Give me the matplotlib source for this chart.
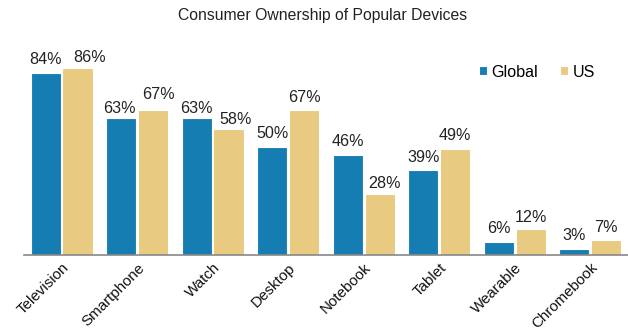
import matplotlib
matplotlib.use("Agg")
import matplotlib.pyplot as plt
import numpy as np

plt.rcParams['font.family'] = ['Liberation Sans', 'DejaVu Sans']

categories = ["Television", "Smartphone", "Watch", "Desktop", "Notebook",
              "Tablet", "Wearable", "Chromebook"]
global_vals = [84, 63, 63, 50, 46, 39, 6, 3]
us_vals = [86, 67, 58, 67, 28, 49, 12, 7]
series_names = ["Global", "US"]
colors = ["#167db3", "#e8cb80"]

# value-label nudges in pixels (dx, gap above bar top) to keep labels apart
global_nudge = [(0, 9), (-2, 5), (0, 5), (0, 9), (0, 9), (0, 8), (0, 9), (0, 9)]
us_nudge = [(12, 6), (5, 11), (7, 5), (0, 8), (5, 6), (0, 9), (0, 7), (0, 8)]

DPI = 100
PX = 72.0 / DPI  # points per pixel

fig = plt.figure(figsize=(6.28, 3.33), dpi=DPI)
ax = fig.add_axes([0.038, 0.234, 0.962, 0.652])

x = np.arange(len(categories))
w = 0.40
offs = [-0.211, 0.211]
for vals, name, c, o, nudge in zip([global_vals, us_vals], series_names,
                                   colors, offs, [global_nudge, us_nudge]):
    bars = ax.bar(x + o, vals, width=w, color=c, edgecolor="white",
                  linewidth=0.8, label=name)
    for b, v, (dx, dy) in zip(bars, vals, nudge):
        ax.annotate(f"{v}%", (b.get_x() + b.get_width() / 2, v),
                    xytext=(dx * PX, dy * PX), textcoords="offset points",
                    ha="center", va="baseline", fontsize=11.6, color="#222222")

ax.set_xlim(-0.5, len(categories) - 0.5)
ax.set_ylim(0, 100)
ax.set_xticks(x)
ax.set_xticklabels(categories, rotation=45, ha="right",
                   rotation_mode="anchor", fontsize=10.9, color="#111111")
ax.tick_params(axis="x", length=0, pad=4)
ax.set_yticks([])
for s in ["top", "right", "left"]:
    ax.spines[s].set_visible(False)
ax.spines["bottom"].set_color("#888888")
ax.spines["bottom"].set_linewidth(1.2)

fig.text(0.5135, 0.953, "Consumer Ownership of Popular Devices",
         ha="center", va="center", fontsize=11.3, color="#222222")

ax.legend(loc="center", bbox_to_anchor=(0.849, 0.843), ncol=2, frameon=False,
          fontsize=11.6, handlelength=0.5, handleheight=0.5,
          handletextpad=0.25, columnspacing=1.4)

fig.savefig("out.png", dpi=DPI)
